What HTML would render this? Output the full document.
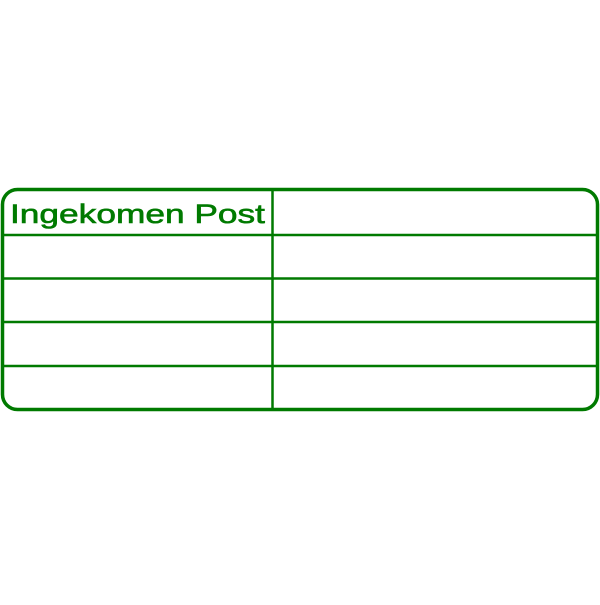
<!DOCTYPE html>
<html><head><style>html,body{margin:0;padding:0;background:#fff;}</style></head>
<body>
<svg width="600" height="600" xmlns="http://www.w3.org/2000/svg">
<rect x="2.5" y="189.5" width="595" height="220" rx="15" ry="15" fill="none" stroke="#007a00" stroke-width="3.5"/>
<g stroke="#007a00" stroke-width="2.5">
<line x1="2" y1="235" x2="598" y2="235"/>
<line x1="2" y1="278.5" x2="598" y2="278.5"/>
<line x1="2" y1="322" x2="598" y2="322"/>
<line x1="2" y1="366" x2="598" y2="366"/>
<line x1="272.5" y1="189" x2="272.5" y2="410"/>
</g>
<text x="10" y="223" font-family="Liberation Sans, sans-serif" font-size="27" fill="#007a00" stroke="#007a00" stroke-width="0.6" textLength="255" lengthAdjust="spacingAndGlyphs">Ingekomen Post</text>
</svg>
</body></html>
